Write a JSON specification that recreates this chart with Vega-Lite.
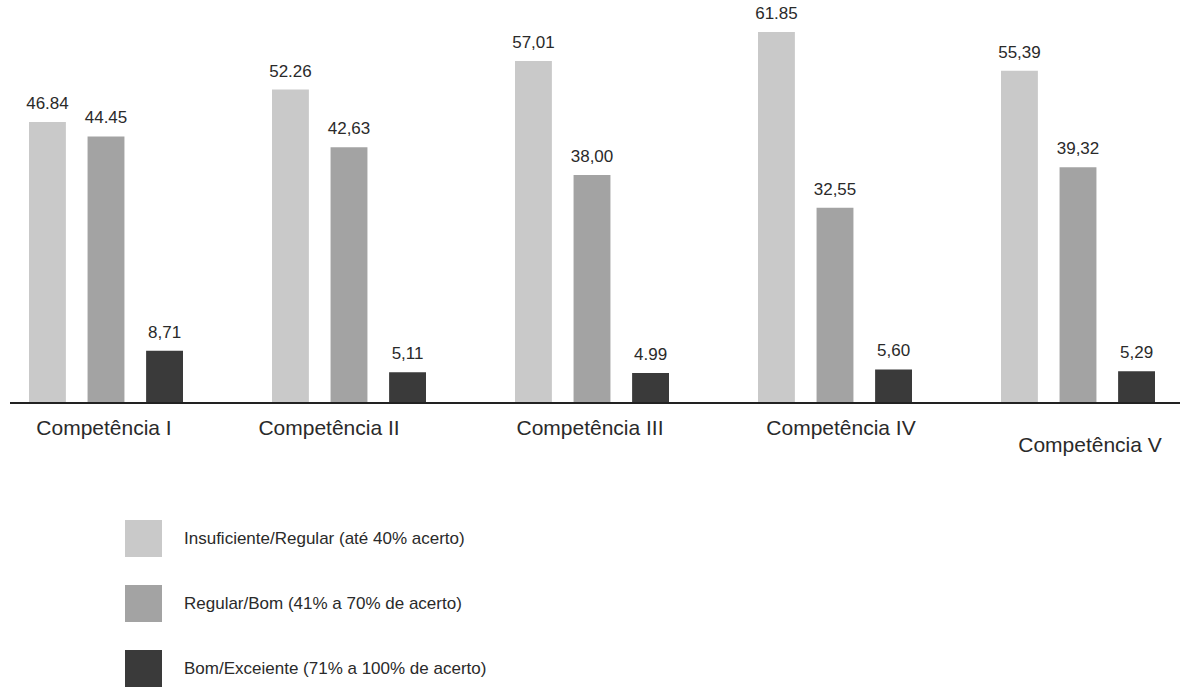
{
  "$schema": "https://vega.github.io/schema/vega-lite/v6.json",
  "width": 1170,
  "height": 379,
  "autosize": {"type": "none"},
  "padding": {"left": 10, "top": 24, "right": 12, "bottom": 290},
  "background": "white",
  "config": {"view": {"stroke": null}, "font": "Liberation Sans"},
  "data": {
    "values": [
      {"comp": "Competência I", "cat": "Insuficiente/Regular (até 40% acerto)", "value": 46.84, "label": "46.84"},
      {"comp": "Competência I", "cat": "Regular/Bom (41% a 70% de acerto)", "value": 44.45, "label": "44.45"},
      {"comp": "Competência I", "cat": "Bom/Exceiente (71% a 100% de acerto)", "value": 8.71, "label": "8,71"},
      {"comp": "Competência II", "cat": "Insuficiente/Regular (até 40% acerto)", "value": 52.26, "label": "52.26"},
      {"comp": "Competência II", "cat": "Regular/Bom (41% a 70% de acerto)", "value": 42.63, "label": "42,63"},
      {"comp": "Competência II", "cat": "Bom/Exceiente (71% a 100% de acerto)", "value": 5.11, "label": "5,11"},
      {"comp": "Competência III", "cat": "Insuficiente/Regular (até 40% acerto)", "value": 57.01, "label": "57,01"},
      {"comp": "Competência III", "cat": "Regular/Bom (41% a 70% de acerto)", "value": 38.0, "label": "38,00"},
      {"comp": "Competência III", "cat": "Bom/Exceiente (71% a 100% de acerto)", "value": 4.99, "label": "4.99"},
      {"comp": "Competência IV", "cat": "Insuficiente/Regular (até 40% acerto)", "value": 61.85, "label": "61.85"},
      {"comp": "Competência IV", "cat": "Regular/Bom (41% a 70% de acerto)", "value": 32.55, "label": "32,55"},
      {"comp": "Competência IV", "cat": "Bom/Exceiente (71% a 100% de acerto)", "value": 5.6, "label": "5,60"},
      {"comp": "Competência V", "cat": "Insuficiente/Regular (até 40% acerto)", "value": 55.39, "label": "55,39"},
      {"comp": "Competência V", "cat": "Regular/Bom (41% a 70% de acerto)", "value": 39.32, "label": "39,32"},
      {"comp": "Competência V", "cat": "Bom/Exceiente (71% a 100% de acerto)", "value": 5.29, "label": "5,29"}
    ]
  },
  "encoding": {
    "x": {
      "field": "comp",
      "type": "nominal",
      "sort": null,
      "scale": {"range": [-25.5, 1189.5], "paddingInner": 0, "paddingOuter": 0},
      "axis": {
        "title": null,
        "domain": false,
        "ticks": false,
        "labelAngle": 0,
        "labelFont": "Liberation Sans",
        "labelFontSize": 21,
        "labelColor": "#2a2a2a",
        "labelPadding": {"condition": {"test": "datum.value === 'Competência V'", "value": 31}, "value": 14},
        "labelOffset": {
          "condition": [
            {"test": "datum.value === 'Competência II'", "value": -20},
            {"test": "datum.value === 'Competência IV'", "value": 6},
            {"test": "datum.value === 'Competência V'", "value": 12}
          ],
          "value": -2
        }
      }
    },
    "xOffset": {
      "field": "cat",
      "type": "nominal",
      "sort": null,
      "scale": {"paddingInner": 0.37, "paddingOuter": 0.76}
    },
    "y": {
      "field": "value",
      "type": "quantitative",
      "scale": {"domain": [0, 63.2], "nice": false, "zero": true},
      "axis": null
    }
  },
  "layer": [
    {
      "mark": {"type": "bar"},
      "encoding": {
        "color": {
          "field": "cat",
          "type": "nominal",
          "sort": null,
          "scale": {"range": ["#c9c9c9", "#a3a3a3", "#3a3a3a"]},
          "legend": {
            "title": null,
            "orient": "none",
            "legendX": 115,
            "legendY": 496,
            "direction": "vertical",
            "symbolType": "square",
            "symbolSize": 1369,
            "symbolStrokeWidth": 0,
            "symbolOpacity": 1,
            "rowPadding": 28,
            "labelOffset": 22,
            "labelFont": "Liberation Sans",
            "labelFontSize": 17,
            "labelColor": "#2a2a2a",
            "labelLimit": 500
          }
        }
      }
    },
    {
      "mark": {"type": "text", "baseline": "bottom", "dy": -9, "font": "Liberation Sans", "fontSize": 17, "color": "#2a2a2a"},
      "encoding": {"text": {"field": "label", "type": "nominal"}}
    },
    {
      "mark": {"type": "rule", "color": "#222222", "strokeWidth": 2},
      "encoding": {"y": {"datum": 0}, "x": null, "xOffset": null}
    }
  ]
}
